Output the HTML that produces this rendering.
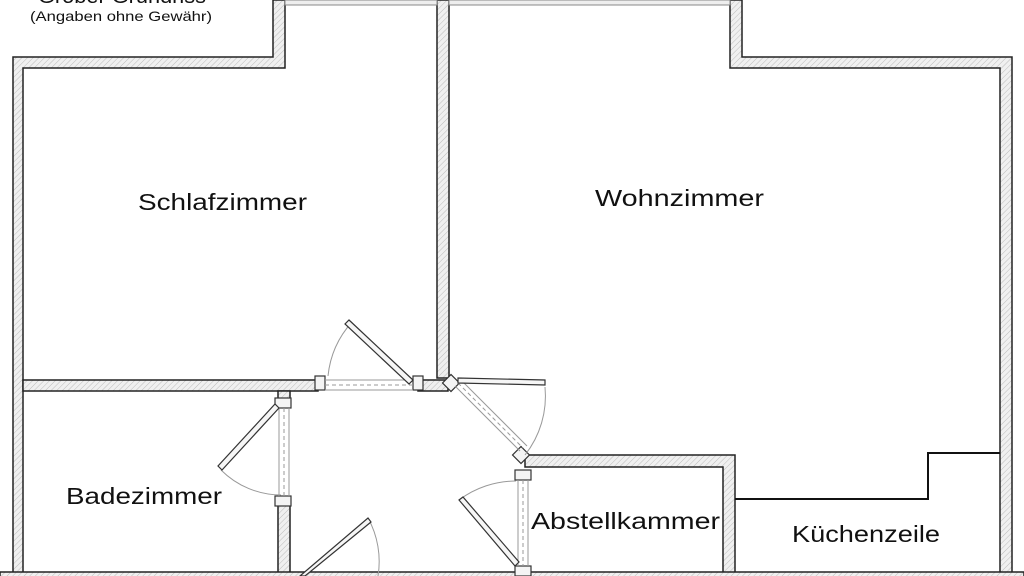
<!DOCTYPE html>
<html><head><meta charset="utf-8"><style>body{margin:0;background:#fff}svg{display:block}</style></head><body>
<svg width="1024" height="576" viewBox="0 0 1024 576" xmlns="http://www.w3.org/2000/svg" font-family="Liberation Sans, sans-serif">
<defs><pattern id="h" width="4" height="4" patternUnits="userSpaceOnUse" patternTransform="rotate(45)"><rect width="4" height="4" fill="#f0f0f0"/><line x1="0" y1="0" x2="0" y2="4" stroke="#bbb" stroke-width="1"/></pattern></defs>
<rect width="1024" height="576" fill="#fff"/>
<g fill="url(#h)" stroke="#222" stroke-width="1.5">
<path d="M13 576 L13 57 L273 57 L273 0 L285 0 L285 68 L23 68 L23 576 Z"/>
<path d="M437 0 L449 0 L449 378 L437 378 Z"/>
<path d="M730 0 L742 0 L742 57 L1012 57 L1012 576 L1000 576 L1000 68 L730 68 Z"/>
<rect x="23" y="380" width="295" height="11"/>
<rect x="418" y="380" width="30" height="11"/>
<rect x="278" y="391" width="12" height="9"/>
<rect x="278" y="500" width="12" height="76"/>
<path d="M525 455 L735 455 L735 576 L723 576 L723 467 L525 467 Z"/>
<rect x="0" y="572" width="1024" height="6"/>
</g>
<g fill="#f4f4f4" stroke="#333" stroke-width="1.2">
<rect x="315" y="376" width="10" height="14"/><rect x="413" y="376" width="10" height="14"/>
<rect x="275" y="398" width="16" height="10"/><rect x="275" y="496" width="16" height="10"/>
<rect x="515" y="470" width="16" height="10"/><rect x="515" y="566" width="16" height="10"/>
<rect x="445" y="377" width="12" height="12" transform="rotate(45 451 383)"/>
<rect x="515" y="449" width="12" height="12" transform="rotate(45 521 455)"/>
</g>
<g fill="#eee" stroke="#888" stroke-width="1"><rect x="285" y="0" width="152" height="5"/><rect x="449" y="0" width="281" height="5"/></g>
<g stroke="#999" stroke-width="1" fill="none">
<line x1="325" y1="380" x2="413" y2="380"/><line x1="325" y1="390" x2="413" y2="390"/>
<line x1="325" y1="385" x2="413" y2="385" stroke-dasharray="4 3"/>
<line x1="279" y1="408" x2="279" y2="496"/><line x1="289" y1="408" x2="289" y2="496"/>
<line x1="284" y1="408" x2="284" y2="496" stroke-dasharray="4 3"/>
<line x1="518" y1="480" x2="518" y2="566"/><line x1="528" y1="480" x2="528" y2="566"/>
<line x1="523" y1="480" x2="523" y2="566" stroke-dasharray="4 3"/>
<line x1="455" y1="386" x2="520" y2="451"/><line x1="462" y1="381" x2="527" y2="446"/>
<line x1="458" y1="383" x2="523" y2="448" stroke-dasharray="4 3"/>
<path d="M328 376 A95 95 0 0 1 352 322"/>
<path d="M281 495 A85 85 0 0 1 221 470"/>
<path d="M525 455 A95 95 0 0 0 545 387"/>
<path d="M516 481 A95 95 0 0 0 459 500"/>
<path d="M378 576 A90 90 0 0 0 368 518"/>
</g>
<g stroke="#333" stroke-width="1.2" fill="#f6f6f6">
<path d="M349 320 L413 380 L409 384 L345 324 Z"/>
<path d="M279 408 L222 470 L218 466 L275 404 Z"/>
<path d="M458 378 L545 380 L545 385 L458 383 Z"/>
<path d="M515 566 L459 500 L463 497 L519 562 Z"/>
<path d="M300 576 L368 518 L371 522 L305 576 Z"/>
</g>
<path d="M735 499 L928 499 L928 453 L1000 453" stroke="#111" stroke-width="2" fill="none"/>
<g fill="#111">
<text x="38" y="3" font-size="20" textLength="168" lengthAdjust="spacingAndGlyphs">Grober Grundriss</text>
<text x="30" y="21" font-size="14" textLength="182" lengthAdjust="spacingAndGlyphs">(Angaben ohne Gewähr)</text>
<text x="138" y="210" font-size="23" textLength="169" lengthAdjust="spacingAndGlyphs">Schlafzimmer</text>
<text x="595" y="206" font-size="23" textLength="169" lengthAdjust="spacingAndGlyphs">Wohnzimmer</text>
<text x="66" y="504" font-size="23" textLength="156" lengthAdjust="spacingAndGlyphs">Badezimmer</text>
<text x="531" y="529" font-size="23" textLength="189" lengthAdjust="spacingAndGlyphs">Abstellkammer</text>
<text x="792" y="542" font-size="23" textLength="148" lengthAdjust="spacingAndGlyphs">Küchenzeile</text>
</g>
</svg>
</body></html>
